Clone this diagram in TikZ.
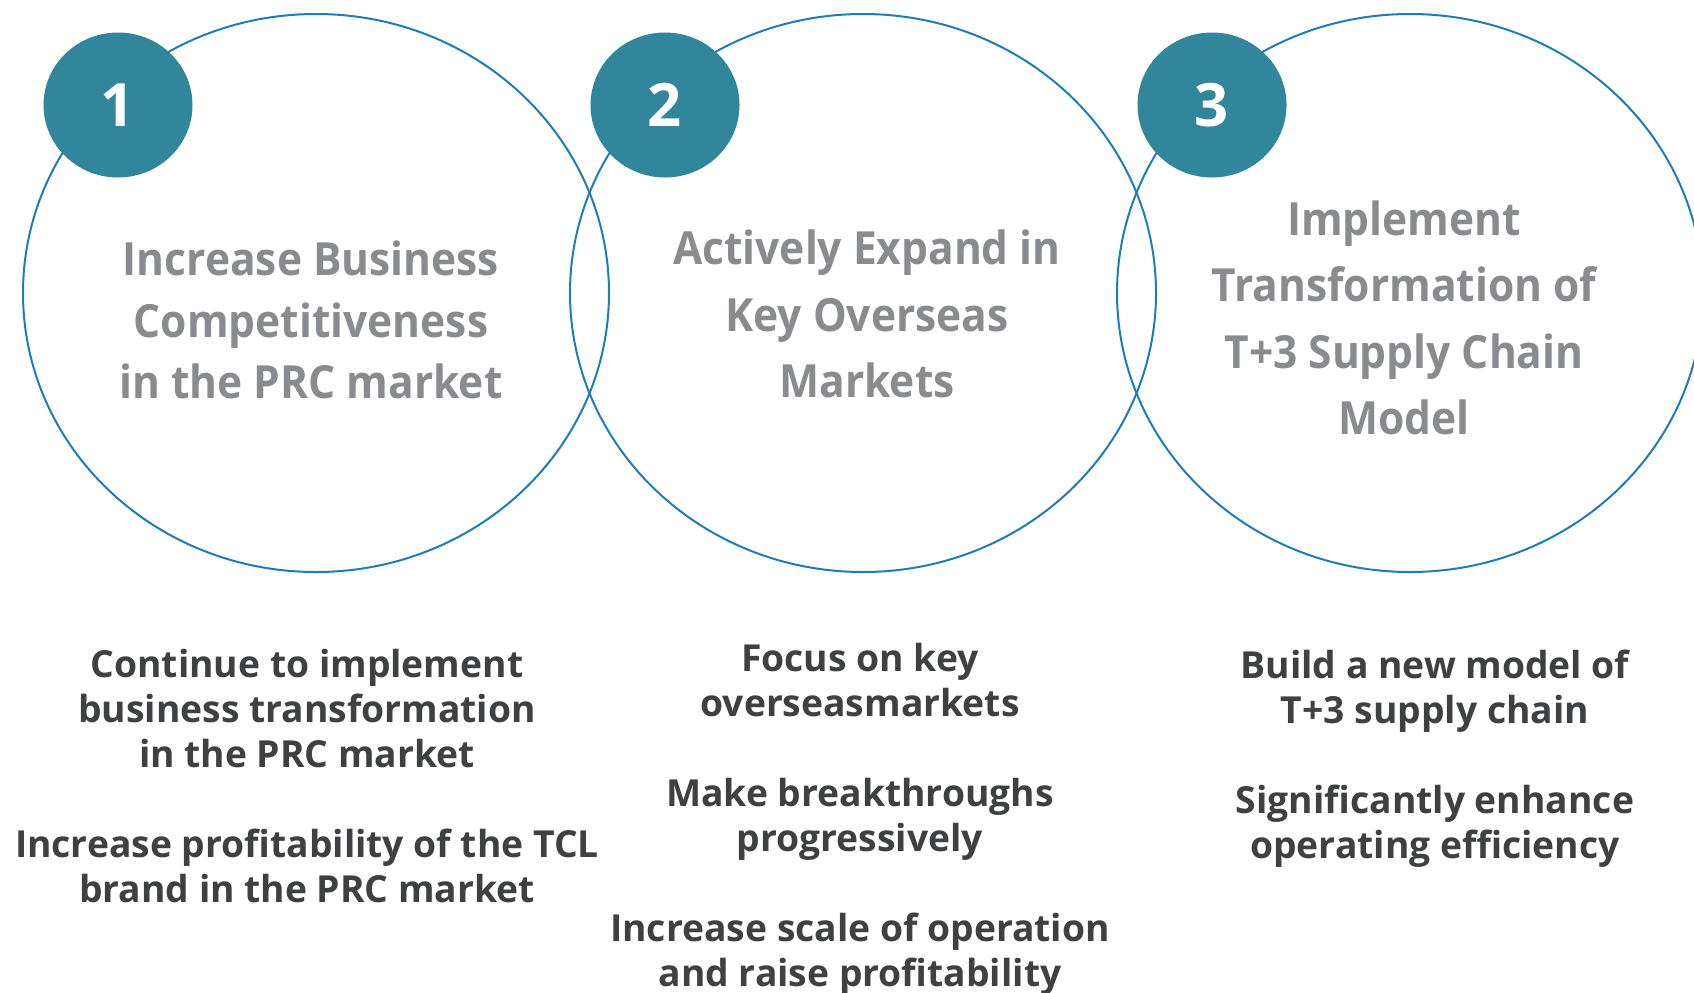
\documentclass[tikz,border=0pt]{standalone}
\usepackage{fontspec}
\setmainfont{Open Sans}
\newfontfamily\headfont[FakeStretch=0.93]{Open Sans}
\usepackage{xcolor}
\usetikzlibrary{shapes.geometric}

\definecolor{ringblue}{RGB}{31,125,182}
\definecolor{badgeteal}{RGB}{49,134,155}
\definecolor{headgrey}{RGB}{137,139,142}
\definecolor{bodygrey}{RGB}{63,64,66}

\begin{document}
\begin{tikzpicture}[x=0.1mm,y=-0.1mm,
 ring/.style={draw=ringblue,line width=0.2mm,ellipse,minimum width=58.6mm,minimum height=55.8mm,inner sep=0pt},
 badge/.style={fill=badgeteal,ellipse,minimum width=14.9mm,minimum height=14.5mm,inner sep=0pt,text=white,font=\bfseries\fontsize{17}{20}\selectfont},
 head/.style={text=headgrey,align=center,font=\headfont\bfseries\fontsize{13}{17.4}\selectfont},
 body/.style={text=bodygrey,align=center,font=\bfseries\fontsize{10.6}{12.8}\selectfont}]

 \useasboundingbox (0,0) rectangle (1694,992);

 \coordinate (o1) at (316,293);
 \coordinate (o2) at (863,293);
 \coordinate (o3) at (1410,293);

 \coordinate (b1) at (118,105);
 \coordinate (b2) at (665,105);
 \coordinate (b3) at (1212,105);

 % the three rings
 \node[ring] (r1) at (o1) {};
 \node[ring] (r2) at (o2) {};
 \node[ring] (r3) at (o3) {};

 % numbered badges on top of the rings
 \node[badge] (n1) at (b1) {1};
 \node[badge] (n2) at (b2) {2};
 \node[badge] (n3) at (b3) {3};

 \node[head] (h1) at (311,320) {Increase Business\\Competitiveness\\in the PRC market};
 \node[head,font=\headfont\bfseries\fontsize{13}{18.9}\selectfont] (h2) at (867,314) {Actively Expand in\\Key Overseas\\Markets};
 \node[head,font=\headfont\bfseries\fontsize{13}{18.9}\selectfont] (h3) at (1404,318) {Implement\\Transformation of\\T+3 Supply Chain\\Model};

 % goals under each ring
 \node[body] (t1) at (307,776) {Continue to implement\\business transformation\\in the PRC market\\[12.8pt]Increase profitability of the TCL\\brand in the PRC market};
 \node[body] (t2) at (860,819.5) {Focus on key\\overseasmarkets\\[12.8pt]Make breakthroughs\\progressively\\[12.8pt]Increase scale of operation\\and raise profitability};
 \node[body] (t3) at (1435,758.5) {Build a new model of\\T+3 supply chain\\[12.8pt]Significantly enhance\\operating efficiency};

\end{tikzpicture}
\end{document}
